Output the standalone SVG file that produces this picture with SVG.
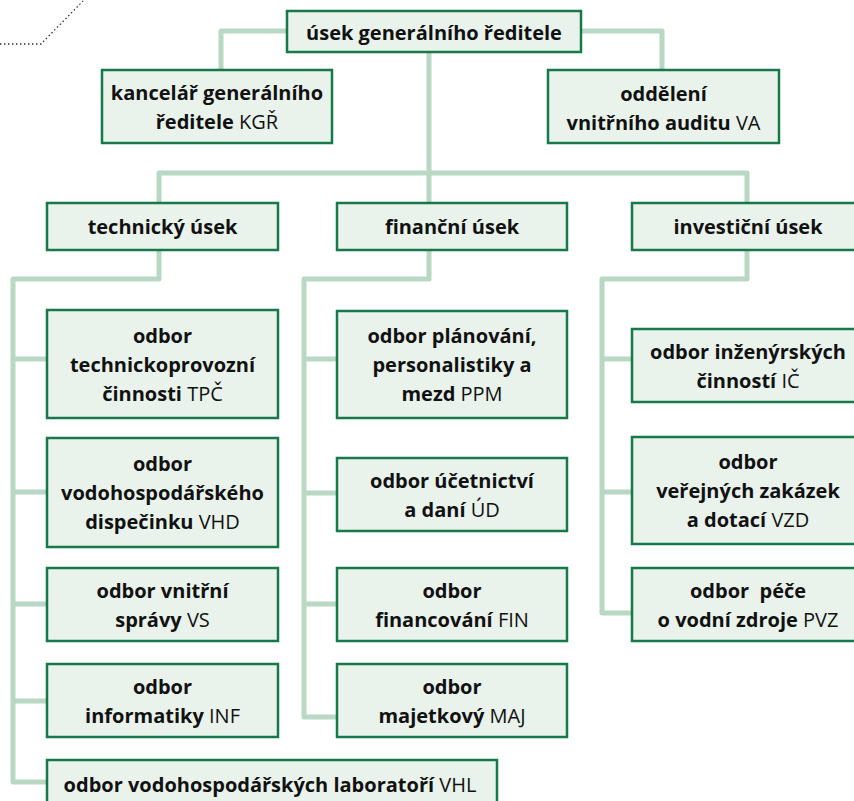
<svg xmlns="http://www.w3.org/2000/svg" width="854" height="801" viewBox="0 0 854 801">
<style>
.box{fill:#e9f3ec;stroke:#17784a;stroke-width:2.5}
.con{fill:none;stroke:#b8d8c4;stroke-width:5;stroke-linejoin:round;stroke-linecap:butt}
text{font-family:"Open Sans","DejaVu Sans",sans-serif;font-size:20px;font-weight:700;fill:#111;text-anchor:middle}
.r{font-weight:400}
</style>
<rect width="854" height="801" fill="#fff"/>
<path d="M0,44 H41 L83,1" fill="none" stroke="#333" stroke-width="1.3" stroke-dasharray="1.5 2.5"/>
<g id="connectors">
<path class="con" d="M221,70 V31 H662 V70"/>
<path class="con" d="M429,52 V204"/>
<path class="con" d="M159,204 V173 H747 V204"/>
<path class="con" d="M159,250 V279 H13 V782 H47"/>
<path class="con" d="M13,359 H47 M13,492 H47 M13,604 H47 M13,701 H47"/>
<path class="con" d="M429,250 V279 H304 V717 H337"/>
<path class="con" d="M304,359 H337 M304,493 H337 M304,604 H337"/>
<path class="con" d="M747,250 V279 H602 V613 H632"/>
<path class="con" d="M602,359 H632 M602,492 H632"/>
</g>
<g id="ugr"><rect class="box" x="287" y="11" width="294" height="41"/><text x="434" y="40">úsek generálního ředitele</text></g>
<g id="kgr"><rect class="box" x="102" y="70" width="230" height="73"/><text x="217" y="100">kancelář generálního</text><text x="217" y="129">ředitele <tspan class="r">KGŘ</tspan></text></g>
<g id="va"><rect class="box" x="548" y="70" width="231" height="73"/><text x="663.5" y="101">oddělení</text><text x="663.5" y="130">vnitřního auditu <tspan class="r">VA</tspan></text></g>
<g id="tu"><rect class="box" x="47" y="203" width="231" height="47"/><text x="162.5" y="234">technický úsek</text></g>
<g id="fu"><rect class="box" x="337" y="203" width="230" height="47"/><text x="452" y="234">finanční úsek</text></g>
<g id="iu"><rect class="box" x="632" y="203" width="232" height="47"/><text x="748" y="234">investiční úsek</text></g>
<g id="tpc"><rect class="box" x="47" y="310" width="231" height="108"/><text x="162.5" y="343">odbor</text><text x="162.5" y="372">technickoprovozní</text><text x="162.5" y="401">činnosti <tspan class="r">TPČ</tspan></text></g>
<g id="vhd"><rect class="box" x="47" y="438" width="231" height="109"/><text x="162.5" y="471">odbor</text><text x="162.5" y="500">vodohospodářského</text><text x="162.5" y="529">dispečinku <tspan class="r">VHD</tspan></text></g>
<g id="vs"><rect class="box" x="47" y="568" width="231" height="73"/><text x="162.5" y="597.5">odbor vnitřní</text><text x="162.5" y="626.5">správy <tspan class="r">VS</tspan></text></g>
<g id="inf"><rect class="box" x="47" y="664" width="231" height="73"/><text x="162.5" y="693.5">odbor</text><text x="162.5" y="722.5">informatiky <tspan class="r">INF</tspan></text></g>
<g id="vhl"><rect class="box" x="47" y="760" width="450" height="60"/><text x="270" y="792">odbor vodohospodářských laboratoří <tspan class="r">VHL</tspan></text></g>
<g id="ppm"><rect class="box" x="337" y="311" width="230" height="107"/><text x="452" y="343">odbor plánování,</text><text x="452" y="372">personalistiky a</text><text x="452" y="401">mezd <tspan class="r">PPM</tspan></text></g>
<g id="ud"><rect class="box" x="337" y="458" width="230" height="73"/><text x="452" y="487.5">odbor účetnictví</text><text x="452" y="516.5">a daní <tspan class="r">ÚD</tspan></text></g>
<g id="fin"><rect class="box" x="337" y="568" width="230" height="73"/><text x="452" y="597.5">odbor</text><text x="452" y="626.5">financování <tspan class="r">FIN</tspan></text></g>
<g id="maj"><rect class="box" x="337" y="664" width="230" height="73"/><text x="452" y="693.5">odbor</text><text x="452" y="722.5">majetkový <tspan class="r">MAJ</tspan></text></g>
<g id="ic"><rect class="box" x="632" y="329" width="232" height="73"/><text x="748" y="358.5">odbor inženýrských</text><text x="748" y="387.5">činností <tspan class="r">IČ</tspan></text></g>
<g id="vzd"><rect class="box" x="632" y="437" width="232" height="107"/><text x="748" y="469">odbor</text><text x="748" y="498">veřejných zakázek</text><text x="748" y="527">a dotací <tspan class="r">VZD</tspan></text></g>
<g id="pvz"><rect class="box" x="632" y="568" width="232" height="73"/><text x="748" y="597.5" xml:space="preserve">odbor  péče</text><text x="748" y="626.5">o vodní zdroje <tspan class="r">PVZ</tspan></text></g>
</svg>
